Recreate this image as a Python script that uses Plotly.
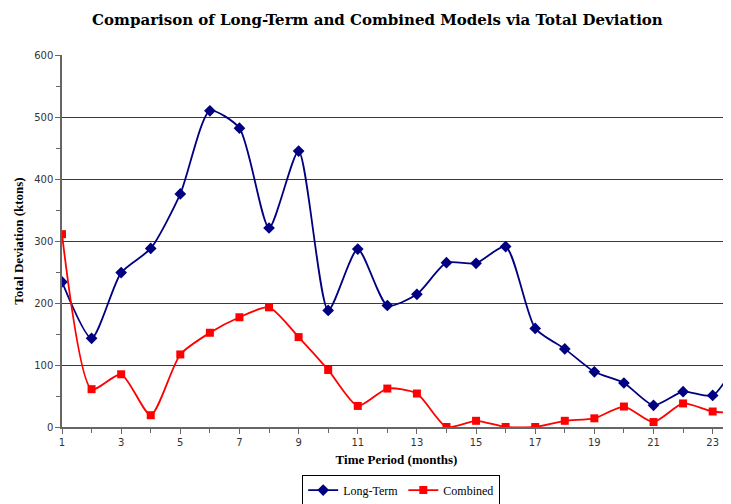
import plotly.graph_objects as go

months = list(range(1, 25))
long_term = [234, 143, 249, 288, 376, 510, 482, 321, 445, 188, 287, 196,
             214, 265, 264, 291, 159, 126, 89, 71, 35, 57, 51, 120]
combined = [311, 61, 85, 19, 117, 152, 177, 193, 145, 92, 34, 62,
            54, 0, 10, 0, 0, 10, 14, 33, 8, 38, 25, 23]

x_tick_vals = list(range(1, 24, 2))
y_tick_vals = list(range(0, 601, 100))

fig = go.Figure()
fig.add_trace(go.Scatter(
    x=months, y=long_term, name="Long-Term", mode="lines+markers",
    line=dict(color="#000080", width=1.8, shape="spline", smoothing=0.65),
    marker=dict(symbol="diamond", size=9, color="#000080"),
))
fig.add_trace(go.Scatter(
    x=months, y=combined, name="Combined", mode="lines+markers",
    line=dict(color="#FF0000", width=1.8, shape="spline", smoothing=0.65),
    marker=dict(symbol="square", size=8, color="#FF0000"),
))

# the page adds an 8px body margin; the figure is sized to fit the window
fig.update_layout(
    width=723, height=496,
    margin=dict(l=54, r=0, t=47, b=77, autoexpand=False),
    paper_bgcolor="white", plot_bgcolor="white",
    title=dict(text="<b>Comparison of Long-Term and Combined Models via Total Deviation</b>",
               x=0.511, xanchor="center", y=0.986, yanchor="top",
               font=dict(family="DejaVu Serif", size=15, color="black")),
    showlegend=True,
    legend=dict(orientation="h", x=0.507, xanchor="center", y=-0.128, yanchor="top",
                bordercolor="black", borderwidth=1, bgcolor="white",
                font=dict(family="Liberation Serif", size=12, color="black"),
                tracegroupgap=0, itemwidth=30),
    xaxis=dict(
        range=[1, 23.62], tickmode="array", tickvals=x_tick_vals, automargin=False,
        ticks="outside", ticklen=5, tickcolor="#666",
        minor=dict(dtick=1, tick0=1, ticks="outside", ticklen=4, tickcolor="#666", showgrid=False),
        showline=True, linecolor="#666", linewidth=1.5, showgrid=False, zeroline=False,
        tickfont=dict(family="DejaVu Sans", size=10, color="#333"),
        title=dict(text="<b>Time Period (months)</b>", standoff=8,
                   font=dict(family="Liberation Serif", size=13, color="black")),
    ),
    yaxis=dict(
        range=[0, 600], tickmode="array", tickvals=y_tick_vals, automargin=False,
        ticks="outside", ticklen=5, tickcolor="#666",
        minor=dict(dtick=50, tick0=0, ticks="outside", ticklen=4, tickcolor="#666", showgrid=False),
        showline=True, linecolor="#666", linewidth=1.5,
        showgrid=True, gridcolor="#3a3a3a", gridwidth=1, zeroline=False,
        tickfont=dict(family="DejaVu Sans", size=10, color="#333"),
        title=dict(text="<b>Total Deviation (ktons)</b>", standoff=8,
                   font=dict(family="Liberation Serif", size=13, color="black")),
    ),
)

fig.write_html("out.html")
